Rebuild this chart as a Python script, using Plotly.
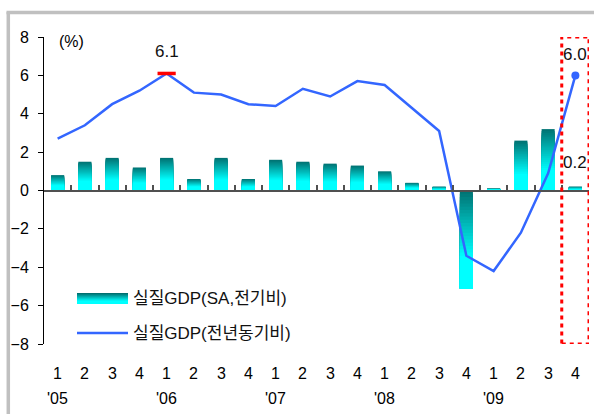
import plotly.graph_objects as go

# ---- data ----
quarters = ["1", "2", "3", "4"] * 5
years = ["'05", "'06", "'07", "'08", "'09"]
categories = [f"{2005 + i // 4}Q{i % 4 + 1}" for i in range(20)]
gdp_sa_qoq = [0.8, 1.5, 1.7, 1.2, 1.7, 0.6, 1.7, 0.6, 1.6, 1.5,
              1.4, 1.3, 1.0, 0.4, 0.2, -5.1, 0.1, 2.6, 3.2, 0.2]
gdp_yoy = [2.7, 3.4, 4.5, 5.2, 6.1, 5.1, 5.0, 4.5, 4.4, 5.3,
           4.9, 5.7, 5.5, 4.3, 3.1, -3.4, -4.2, -2.2, 0.9, 6.0]
name_bar = "실질GDP(SA,전기비)"
name_line = "실질GDP(전년동기비)"

W, H = 594, 414
L, R, T, B = 44, 5, 37, 70
PW, PH = W - L - R, H - T - B


def px(p):
    return (p - L) / PW


def py(p):
    return (H - B - p) / PH


FONT = "Arial, Liberation Sans, Noto Sans CJK KR, sans-serif"
DARK = (0, 112, 112)
LIGHT = (0, 255, 255)


def grad_color(depth):
    t = min(depth / 0.68, 1.0)
    c = [round(DARK[i] + (LIGHT[i] - DARK[i]) * t) for i in range(3)]
    return f"rgb({c[0]},{c[1]},{c[2]})"


fig = go.Figure()

# gradient bars built by overlaying successively shorter bars
N = 30
bases = [0 if v >= 0 else v for v in gdp_sa_qoq]
for k in range(N):
    f = 1 - k / N
    depth = 1 - f
    fig.add_trace(go.Bar(
        x=categories, y=[abs(v) * f for v in gdp_sa_qoq], base=bases,
        marker=dict(color=grad_color(depth + 0.5 / N), line=dict(width=0)),
        showlegend=False, hoverinfo="skip"))

fig.add_trace(go.Scatter(
    x=categories, y=gdp_yoy, mode="lines",
    line=dict(color="#3366FF", width=2.5), showlegend=False))

# peak marker and last point
peak = gdp_yoy.index(max(gdp_yoy[:-1]))
fig.add_trace(go.Scatter(
    x=[categories[peak]], y=[gdp_yoy[peak]], mode="markers",
    marker=dict(symbol="line-ew", size=13, line=dict(color="#FF0000", width=3.5)),
    showlegend=False))
fig.add_trace(go.Scatter(
    x=[categories[-1]], y=[gdp_yoy[-1]], mode="markers",
    marker=dict(symbol="circle", size=8, color="#3366FF"),
    showlegend=False))

TXT = dict(showarrow=False, xanchor="center", yanchor="middle")
annotations = []
annotations.append(dict(x=categories[peak], y=gdp_yoy[peak], text=f"{gdp_yoy[peak]:.1f}",
                        yshift=22, font=dict(size=17, color="#111"), **TXT))
annotations.append(dict(x=categories[-1], y=gdp_yoy[-1], text=f"{gdp_yoy[-1]:.1f}",
                        yshift=21, font=dict(size=17, color="#111"), **TXT))
annotations.append(dict(x=categories[-1], y=gdp_sa_qoq[-1], text=f"{gdp_sa_qoq[-1]:.1f}",
                        yshift=24, font=dict(size=17, color="#111"), **TXT))
# x labels
for i, q in enumerate(quarters):
    annotations.append(dict(x=categories[i], y=py(373), yref="paper", text=q,
                            font=dict(size=16, color="#000"), **TXT))
for j, yr in enumerate(years):
    annotations.append(dict(x=categories[j * 4], y=py(398), yref="paper", text=yr,
                            font=dict(size=16, color="#000"), **TXT))
# unit
annotations.append(dict(x=px(57), y=py(41), xref="paper", yref="paper", text="(%)",
                        xanchor="left", yanchor="middle", showarrow=False,
                        font=dict(size=16, color="#000")))
# legend text
annotations.append(dict(x=px(131), y=py(298), xref="paper", yref="paper", text=name_bar,
                        xanchor="left", yanchor="middle", showarrow=False,
                        font=dict(size=17, color="#111")))
annotations.append(dict(x=px(131), y=py(333), xref="paper", yref="paper", text=name_line,
                        xanchor="left", yanchor="middle", showarrow=False,
                        font=dict(size=17, color="#111")))

shapes = []
# legend bar swatch (gradient)
S = 11
for s in range(S):
    y0p = 293 + s
    shapes.append(dict(type="rect", xref="paper", yref="paper",
                       x0=px(77), x1=px(128), y0=py(y0p + 1), y1=py(y0p),
                       fillcolor=grad_color(s / (S - 1) * 0.9), line=dict(width=0)))
shapes.append(dict(type="line", xref="paper", yref="paper",
                   x0=px(77), x1=px(128), y0=py(333), y1=py(333),
                   line=dict(color="#3366FF", width=2.5)))
# highlight box for last quarter
n = len(categories)
shapes.append(dict(type="rect", xref="x", yref="y", x0=n - 1.5, x1=n - 0.5, y0=-8, y1=8,
                   line=dict(color="#FF0000", width=3, dash="4px,4px")))
# outer frame
shapes.append(dict(type="line", xref="paper", yref="paper", x0=px(8.3), x1=px(8.3),
                   y0=py(12), y1=py(414), line=dict(color="#C0C0C0", width=3.5)))
shapes.append(dict(type="line", xref="paper", yref="paper", x0=px(6.5), x1=px(594),
                   y0=py(12.5), y1=py(12.5), line=dict(color="#C0C0C0", width=3.5)))

fig.update_layout(
    width=W, height=H, margin=dict(l=L, r=R, t=T, b=B),
    paper_bgcolor="white", plot_bgcolor="white",
    barmode="overlay", bargap=0.52,
    font=dict(family=FONT, size=16, color="#000"),
    annotations=annotations, shapes=shapes, showlegend=False,
    xaxis=dict(type="category", anchor="free", position=0.5,
               range=[-0.5, n - 0.5], showline=True, linecolor="#505050", linewidth=1.5,
               ticks="inside", ticklen=5, tickcolor="#505050", tickwidth=1.5,
               tickson="boundaries", showticklabels=False, showgrid=False, zeroline=False),
    yaxis=dict(range=[-8, 8], dtick=2, showline=True, linecolor="#000", linewidth=1,
               ticks="outside", ticklen=5, tickcolor="#000", showgrid=False,
               zeroline=False, tickfont=dict(size=16), ticklabelstandoff=6),
)

fig.write_html("out.html", post_script="document.body.style.margin='0';",
               config={"displayModeBar": False})
